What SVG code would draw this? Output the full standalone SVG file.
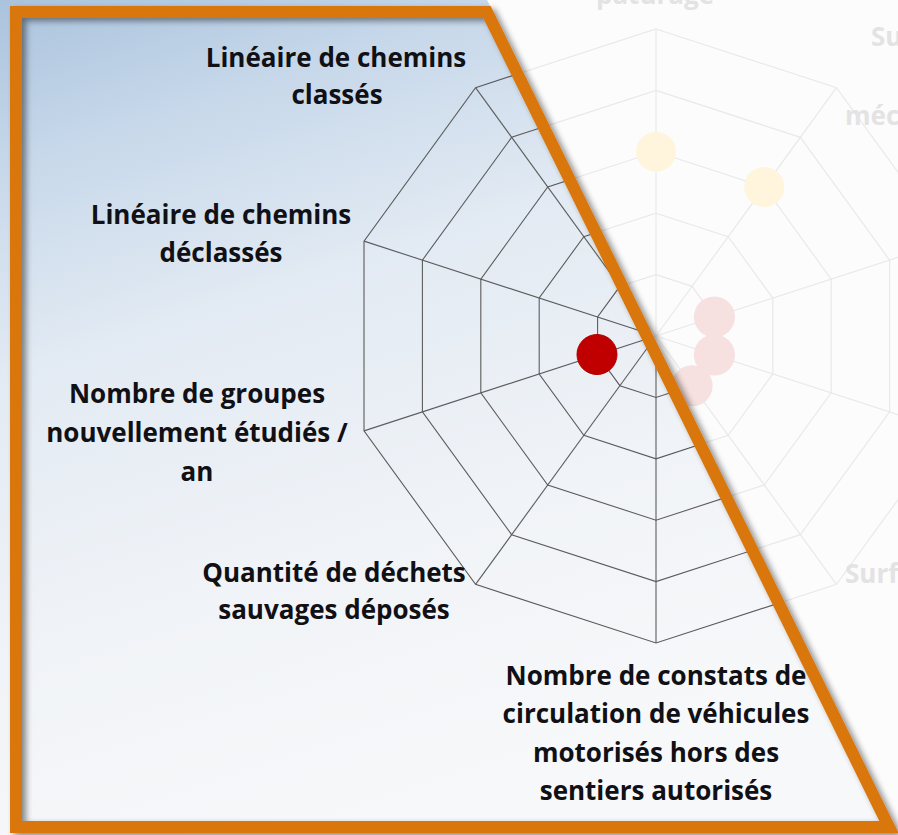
<svg xmlns="http://www.w3.org/2000/svg" xmlns:xlink="http://www.w3.org/1999/xlink" width="898" height="835" viewBox="0 0 898 835">
  <style>
    .lbl { font-family: "Open Sans", "Lato", "Liberation Sans", sans-serif; font-weight: 700; font-size: 26px; fill: #101015; text-anchor: middle; }
    .fade { font-family: "Open Sans", "Lato", "Liberation Sans", sans-serif; font-weight: 700; font-size: 26px; fill: #e3e3e3; }
    .grid polygon, .grid line { fill: none; }
  </style>
  <defs>
    <linearGradient id="sky" x1="0" y1="0" x2="0.35" y2="1">
      <stop offset="0" stop-color="#aac3dd"/>
      <stop offset="0.18" stop-color="#c7d8ea"/>
      <stop offset="0.4" stop-color="#e2eaf3"/>
      <stop offset="0.7" stop-color="#f0f3f7"/>
      <stop offset="1" stop-color="#f7f8fa"/>
    </linearGradient>
    <filter id="shadow" x="-5%" y="-5%" width="110%" height="110%">
      <feGaussianBlur in="SourceAlpha" stdDeviation="3"/>
      <feOffset dx="4" dy="3" result="b"/>
      <feComponentTransfer><feFuncA type="linear" slope="0.45"/></feComponentTransfer>
      <feMerge><feMergeNode/><feMergeNode in="SourceGraphic"/></feMerge>
    </filter>
    <clipPath id="inside">
      <polygon points="16,12 487,12 889,827 16,827"/>
    </clipPath>
    <g id="grid" class="grid">
      <polygon points="656,274.6 692.09,286.33 714.4,317.03 714.4,354.97 692.09,385.67 656,397.4 619.91,385.67 597.6,354.97 597.6,317.03 619.91,286.33"/>
      <polygon points="656,213.2 728.18,236.65 772.8,298.05 772.8,373.95 728.18,435.35 656,458.8 583.82,435.35 539.2,373.95 539.2,298.05 583.82,236.65"/>
      <polygon points="656,151.8 764.27,186.98 831.19,279.08 831.19,392.92 764.27,485.02 656,520.2 547.73,485.02 480.81,392.92 480.81,279.08 547.73,186.98"/>
      <polygon points="656,90.4 800.36,137.31 889.59,260.11 889.59,411.89 800.36,534.69 656,581.6 511.64,534.69 422.41,411.89 422.41,260.11 511.64,137.31"/>
      <polygon points="656,29 836.45,87.64 947.99,241.14 947.99,430.86 836.45,584.36 656,643 475.55,584.36 364.01,430.86 364.01,241.14 475.55,87.64"/>
      <line x1="656" y1="336" x2="656" y2="29"/>
      <line x1="656" y1="336" x2="836.45" y2="87.64"/>
      <line x1="656" y1="336" x2="947.99" y2="241.14"/>
      <line x1="656" y1="336" x2="947.99" y2="430.86"/>
      <line x1="656" y1="336" x2="836.45" y2="584.36"/>
      <line x1="656" y1="336" x2="656" y2="643"/>
      <line x1="656" y1="336" x2="475.55" y2="584.36"/>
      <line x1="656" y1="336" x2="364.01" y2="430.86"/>
      <line x1="656" y1="336" x2="364.01" y2="241.14"/>
      <line x1="656" y1="336" x2="475.55" y2="87.64"/>
    </g>
  </defs>

  <rect x="0" y="0" width="898" height="835" fill="#fcfcfc"/>

  <!-- faded chart (outside the frame) -->
  <g id="faded-chart">
    <use xlink:href="#grid" href="#grid" stroke="#e9e9e9" stroke-width="1.2"/>
    <g id="faded-dots">
      <circle cx="656" cy="151.8" r="20" fill="#fff5dd"/>
      <circle cx="764.3" cy="187" r="20" fill="#fff5dd"/>
      <circle cx="714.4" cy="317" r="20.5" fill="#f6e0e0"/>
      <circle cx="714.4" cy="355" r="20.5" fill="#f6e0e0"/>
      <circle cx="692.1" cy="385.7" r="20.5" fill="#f6e0e0"/>
    </g>
    <g id="faded-labels">
      <text class="fade" x="655" y="4" text-anchor="middle">pâturage</text>
      <text class="fade" x="871" y="46">Su</text>
      <text class="fade" x="845" y="125">méc</text>
      <text class="fade" x="845" y="583">Surf</text>
    </g>
  </g>

  <!-- sky panel -->
  <polygon points="0,0 487,0 900,835 0,835" fill="url(#sky)"/>

  <!-- clear chart inside the frame -->
  <g id="chart" clip-path="url(#inside)">
    <g id="connectors">
      <use xlink:href="#grid" href="#grid" stroke="#5c5c5c" stroke-width="1.1"/>
    </g>
    <g id="dot-groupes">
      <circle cx="597" cy="354.5" r="20" fill="#c00000" stroke="#b00000" stroke-width="1"/>
    </g>
  </g>

  <!-- frame -->
  <g id="frame" filter="url(#shadow)">
    <polygon points="16,12 487,12 889,827 16,827" fill="none" stroke="#d9770f" stroke-width="12" stroke-linejoin="miter"/>
  </g>

  <!-- labels -->
  <g id="label-classes">
    <text class="lbl" x="336" y="67">Linéaire de chemins</text>
    <text class="lbl" x="337" y="104">classés</text>
  </g>
  <g id="label-declasses">
    <text class="lbl" x="221" y="224">Linéaire de chemins</text>
    <text class="lbl" x="221" y="262">déclassés</text>
  </g>
  <g id="label-groupes">
    <text class="lbl" x="197" y="403">Nombre de groupes</text>
    <text class="lbl" x="197" y="442">nouvellement étudiés /</text>
    <text class="lbl" x="197" y="481">an</text>
  </g>
  <g id="label-dechets">
    <text class="lbl" x="334" y="582">Quantité de déchets</text>
    <text class="lbl" x="334" y="619">sauvages déposés</text>
  </g>
  <g id="label-constats">
    <text class="lbl" x="656" y="685">Nombre de constats de</text>
    <text class="lbl" x="656" y="723">circulation de véhicules</text>
    <text class="lbl" x="656" y="762">motorisés hors des</text>
    <text class="lbl" x="656" y="800">sentiers autorisés</text>
  </g>
</svg>
